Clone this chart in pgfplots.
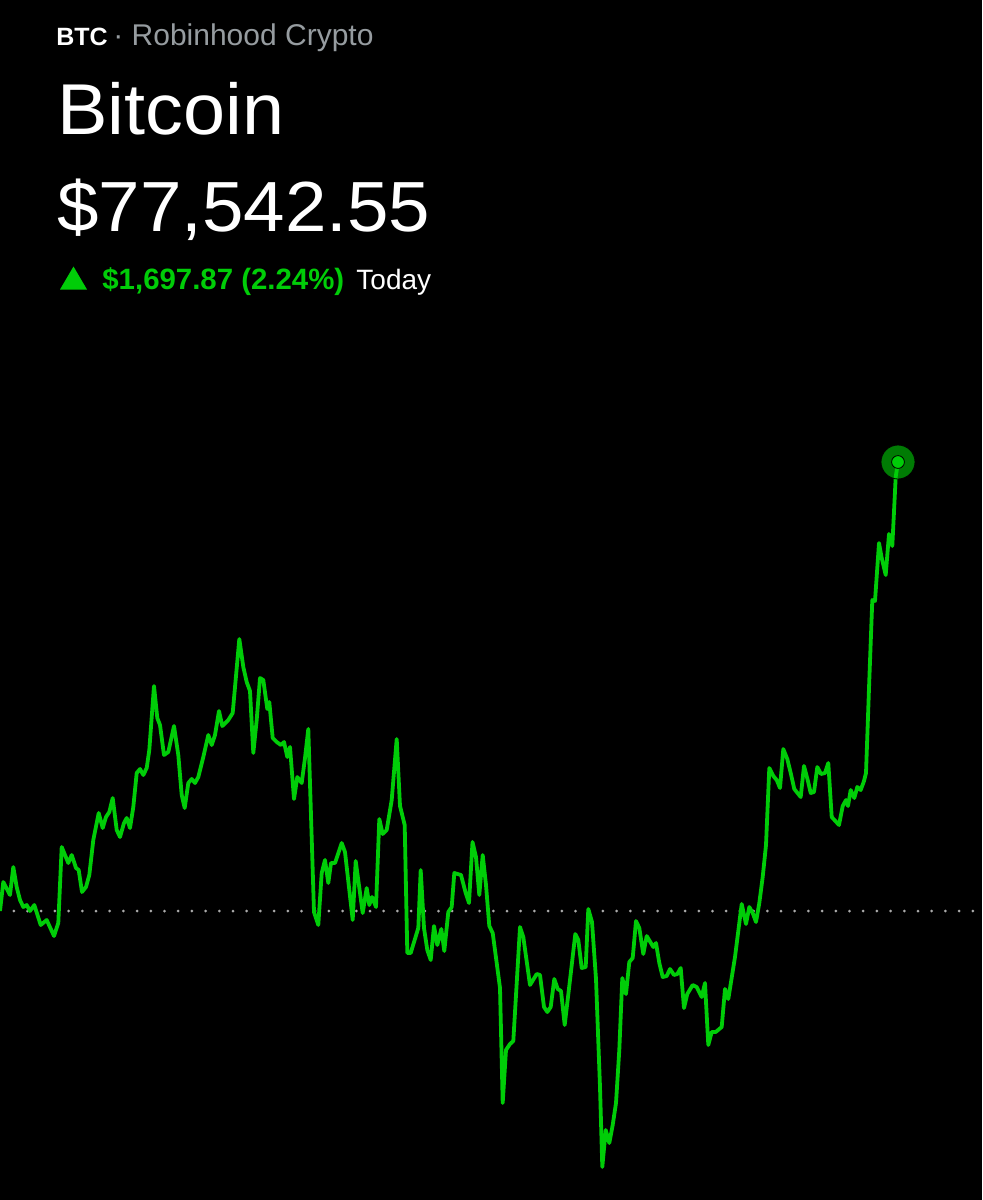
\documentclass[border=0pt]{standalone}
\usepackage{pgfplots}
\pgfplotsset{compat=1.18}
\usepackage{fontspec}
\setmainfont{Liberation Sans}
\definecolor{rhgreen}{RGB}{0,205,8}
\definecolor{rhdark}{RGB}{0,128,6}
\definecolor{rhgray}{RGB}{150,156,160}
\definecolor{dotgray}{RGB}{170,170,170}
\begin{document}
\begin{tikzpicture}
\begin{axis}[
  at={(0,0)}, anchor=south west,
  scale only axis, width=491pt, height=600pt,
  xmin=0, xmax=982, ymin=0, ymax=1200, y dir=reverse,
  axis lines=none, ticks=none, clip=false,
  axis background/.style={fill=black},
]
\coordinate (A) at (rel axis cs:0,0);
\coordinate (B) at (rel axis cs:1,1);
% baseline (previous close)
\addplot[dotgray, line width=1.5pt, line cap=round, dash pattern=on 0pt off 6.85pt, dash phase=-0.4pt] coordinates {(13,911) (982,911)};
% price line
\addplot[rhgreen, line width=1.9pt, line join=round] coordinates {
(0,911) (3.3,882) (10,895) (13.3,867) (16.7,887) (20,900) (23.3,907) (26.7,905) (30,911) (34.3,905) (40.7,925) (46.7,920) (54,936) (58.3,923) (61.7,847) (68.3,863) (71.7,855) (76,868) (78.7,870) (82,892) (86,887) (89.3,875) (93.3,840) (98.7,813) (102.7,828) (106,817) (109.3,812) (112.7,798) (116.7,830) (120,837) (124,823) (126.7,818) (130,828) (133.3,807) (136.7,773) (140,769) (143.3,775) (146.7,768) (149.3,750) (154,686) (157.3,718) (160,725) (164,755) (168.3,752) (174,726) (178.3,755) (181.7,795) (184.7,808) (188.3,783) (191.7,779) (195,783) (198.3,777) (203.3,757) (208.3,735) (211.7,745) (215,735) (219,711) (222.3,726) (228.3,720) (232.7,713) (239.3,639) (243.3,667) (246.7,682) (250,691) (253.3,753) (256.7,720) (260,678) (263.3,680) (267.3,709) (269.3,702) (272.7,738) (276.7,742) (281,745) (284,742) (287.3,757) (290,747) (294,799) (297.3,777) (301.7,783) (305,758) (308.3,729) (314,912) (318.3,925) (321.7,873) (325,860) (328.3,883) (331,863) (335,863) (341.7,843) (345,852) (352.7,920) (355.7,861) (362.7,913) (366.7,888) (369.3,905) (372,897) (376,907) (379.3,819) (382.7,834) (386.7,830) (391.7,800) (396.7,739) (400,806) (404.7,825) (407.3,953) (410.7,953) (418.3,928) (420.7,870) (424,928) (427.3,950) (430.7,960) (434,926) (437.3,945) (441.3,929) (444.3,951) (448.3,912) (451.7,907) (454.3,873) (461,875) (465.7,893) (469,903) (472.5,842) (476,857) (479.3,895) (482.7,855) (486,885) (489.3,926) (492.7,933) (496.7,963) (500,988) (502.7,1103) (506,1050) (510,1044) (513.3,1041) (520,927) (523.3,937) (530,985) (536.7,974) (540,975) (544,1007) (547.3,1012) (550.7,1007) (554.3,979) (557.7,989) (561,991) (564.7,1025) (570,980) (575.3,934) (578.3,940) (581.7,968) (585.7,967) (588.3,909) (592,922) (596,979) (600,1087) (602.3,1167) (605.7,1130) (609.3,1143) (612.7,1125) (616,1103) (619.3,1050) (622.3,978) (626,994) (629.3,962) (632.7,958) (636,921) (639.3,928) (643.3,954) (646.7,936) (653.3,947) (656,943) (659.3,963) (662.7,977) (666.7,976) (670,969) (674,975) (677.3,974) (680.7,968) (684,1008) (687.3,994) (692.7,985) (696.7,987) (701.7,997) (705,983) (708.3,1045) (711.7,1032) (715.7,1032) (721.7,1027) (725,989) (728.3,999) (735,957) (741.7,904) (746,924) (749.3,907) (752.7,913) (756,922) (759.3,903) (762.7,877) (766,845) (769.3,768) (773.3,776) (776.7,780) (780,788) (783.3,749) (787.3,759) (790.7,773) (794.3,789) (800.7,797) (804,766) (807.7,780) (810.7,793) (814,792) (817.3,767) (821,774) (825,773) (828.3,763) (831.7,817) (839,825) (842.7,806) (846,800) (848,806) (850.7,790) (854.3,798) (857.3,787) (860.7,790) (864,781) (866,773) (869.3,680) (872.3,600) (875,601) (879,543) (881.7,558) (885.7,575) (889,534) (892.3,546) (895.7,477) (898,462)
};
% end dot
\addplot[only marks, mark=*, mark size=8.5pt, mark options={draw=none, fill=rhgreen, fill opacity=0.6}] coordinates {(898,462)};
\addplot[only marks, mark=*, mark size=3.2pt, mark options={draw=none, fill=rhgreen}] coordinates {(898,462)};
% header texts
\node[anchor=base west, inner sep=0pt, text=white, font=\fontsize{12.5pt}{14pt}\selectfont\bfseries] at (axis cs:56,45) {BTC};
\node[anchor=base west, inner sep=0pt, text=rhgray, font=\fontsize{15pt}{17pt}\selectfont] at (axis cs:113,45) {\textperiodcentered\ Robinhood Crypto};
\node[anchor=base west, inner sep=0pt, text=white, font=\fontsize{36pt}{40pt}\selectfont] at (axis cs:57,134) {\scalebox{1.05}[1]{Bitcoin}};
\node[anchor=base west, inner sep=0pt, text=white, font=\fontsize{35.5pt}{40pt}\selectfont] at (axis cs:57,231) {\scalebox{1.05}[1]{\$77,542.55}};
\fill[rhgreen] (axis cs:60,289.5) -- (axis cs:87,289.5) -- (axis cs:73.5,266.5) -- cycle;
\node[anchor=base west, inner sep=0pt, text=rhgreen, font=\fontsize{14.7pt}{17pt}\selectfont\bfseries] at (axis cs:102,289.5) {\$1,697.87 (2.24\%)};
\node[anchor=base west, inner sep=0pt, text=white, font=\fontsize{14pt}{17pt}\selectfont] at (axis cs:356,289.5) {Today};
\end{axis}
\pgfresetboundingbox
\path[use as bounding box] (A) rectangle (B);
\end{tikzpicture}
\end{document}
